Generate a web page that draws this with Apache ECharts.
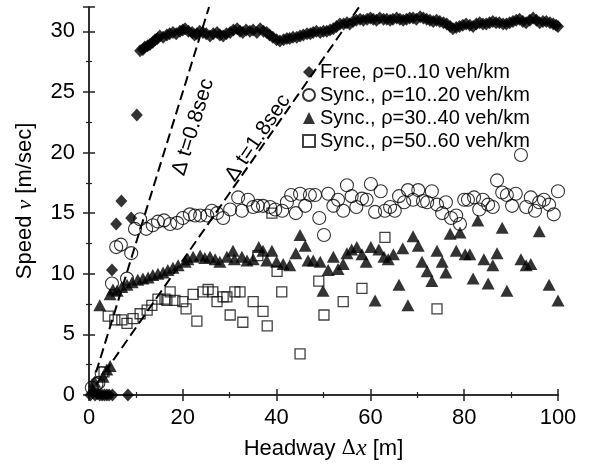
<!DOCTYPE html>
<html>
<head>
<meta charset="utf-8">
<script src="https://cdn.jsdelivr.net/npm/echarts@6/dist/echarts.min.js"></script>
<style>html,body{margin:0;padding:0;background:#fff}#c{width:592px;height:466px}</style>
</head>
<body>
<div id="c"></div>
<script>
// ---- data (headway [m], speed [m/s]) ----
const seriesNames = ['Free, ρ=0..10 veh/km', 'Sync., ρ=10..20 veh/km', 'Sync., ρ=30..40 veh/km', 'Sync., ρ=50..60 veh/km'];
const xTicks = [0, 20, 40, 60, 80, 100];
const yTicks = [0, 5, 10, 15, 20, 25, 30];

const freeData = [
  [0.3,0],[0.8,0.2],[1.3,0],[1.8,0.1],[2.3,0],[2.8,0],[3.3,0],[3.8,0],[4.3,0],[5.0,0],[8.3,0],
  [4.9,10.3],[5.8,14.1],[6.9,16.0],[9.0,14.6],[10.2,23.1],
  [10.9,28.4],[11.5,28.5],[11.9,28.7],[12.5,28.8],[13.0,28.9],[13.6,29.1],[14.1,29.3],[14.6,29.4],[15.1,29.6],[15.8,29.5],
  [16.6,29.7],[17.2,29.8],[17.9,29.9],[18.6,29.8],[19.4,30.0],[20.0,30.1],[20.5,30.2],[21.2,30.0],[22.0,29.9],[22.5,29.7],
  [23.0,29.8],[23.6,30.0],[24.3,29.9],[25.0,29.8],[25.8,29.6],[26.5,29.8],[27.3,29.9],[27.9,29.7],[28.6,29.6],[29.3,29.8],
  [30.1,29.9],[30.8,30.1],[31.6,30.2],[32.2,30.0],[32.8,29.9],[33.5,30.1],[34.3,30.0],[35.0,30.1],[35.8,29.9],[36.5,30.2],
  [37.2,30.0],[37.9,29.9],[38.5,29.7],[39.2,29.5],[40.0,29.3],[40.7,29.2],[41.5,29.3],[42.2,29.4],[42.8,29.4],[43.5,29.5],
  [44.3,29.5],[45.0,29.6],[45.7,29.7],[46.5,29.8],[47.2,29.8],[47.8,29.9],[48.5,30.0],[49.3,29.9],[50.0,30.0],[50.7,30.0],
  [51.4,30.1],[52.1,30.2],[52.8,30.4],[53.5,30.6],[54.3,30.6],[55.0,30.7],[55.6,30.6],[56.3,30.8],[57.0,30.9],[57.8,31.0],
  [58.5,30.9],[59.3,31.0],[60.0,31.1],[60.6,31.0],[61.3,30.9],[62.0,31.1],[62.8,31.0],[63.5,31.0],[64.2,30.9],[64.8,31.0],
  [65.6,31.1],[66.3,31.0],[67.0,30.9],[67.7,31.0],[68.4,31.1],[69.1,31.1],[69.8,31.0],[70.6,31.2],[71.3,31.1],[72.0,31.0],
  [72.7,30.9],[73.4,30.8],[74.1,30.9],[74.8,30.8],[75.6,30.7],[76.3,30.6],[77.0,30.4],[77.6,30.2],[78.3,30.3],[79.0,30.4],
  [79.7,30.5],[80.4,30.6],[81.2,30.5],[81.9,30.4],[82.6,30.6],[83.3,30.7],[84.0,30.6],[84.7,30.6],[85.4,30.7],[86.1,30.8],
  [86.8,30.7],[87.5,30.7],[88.3,30.6],[89.0,30.6],[89.7,30.7],[90.4,30.8],[91.1,30.9],[91.8,31.0],[92.5,30.8],[93.2,30.7],
  [94.0,30.9],[94.7,31.1],[95.4,30.9],[96.1,30.7],[96.8,30.8],[97.5,30.8],[98.3,30.7],[99.0,30.6],[99.6,30.5],[100.0,30.4]
];

const sync1020 = [
  [0.6,0.6],[1.6,0.9],[2.0,1.0],[2.7,1.8],[4.9,9.2],[5.8,12.2],[6.8,12.4],[8.1,9.6],[9.0,11.7],[9.8,13.7],[10.9,14.5],
  [12.2,13.7],[13.6,14.0],[14.7,14.3],[16.0,14.4],[17.3,14.1],[18.8,14.2],[20.0,14.6],[21.5,14.9],[22.6,14.8],[23.7,14.8],
  [25.2,14.8],[26.2,15.2],[27.3,15.0],[28.6,14.6],[30.1,15.3],[31.8,16.3],[32.6,15.2],[33.9,16.1],[35.0,15.5],[36.0,15.6],
  [37.1,15.6],[38.6,15.5],[39.7,15.3],[41.2,15.2],[42.2,15.9],[43.1,16.5],[44.1,15.0],[45.0,16.6],[46.1,15.6],[47.1,16.5],
  [48.2,16.5],[49.1,14.6],[50.1,13.2],[51.0,16.6],[52.1,15.6],[53.1,16.1],[54.2,15.2],[55.0,17.3],[56.0,16.4],[57.0,15.5],
  [58.2,16.2],[59.2,16.1],[60.1,17.4],[61.0,15.1],[62.2,16.8],[63.1,15.2],[64.2,15.5],[65.2,15.2],[66.1,16.4],[67.2,15.9],
  [68.0,16.9],[69.1,16.1],[70.2,16.9],[71.2,16.0],[72.1,15.9],[73.1,16.8],[74.2,15.7],[75.3,15.0],[76.1,15.9],[77.2,14.6],
  [78.3,14.8],[79.1,14.1],[80.0,16.1],[80.8,16.1],[82.1,16.3],[83.2,15.3],[84.0,16.1],[85.1,15.7],[86.1,15.5],[87.0,17.7],
  [88.1,16.7],[89.1,16.5],[90.2,15.6],[91.0,16.6],[92.1,19.8],[93.2,15.5],[94.2,16.3],[95.1,15.2],[96.0,15.9],[97.0,16.1],
  [98.1,15.7],[99.1,14.9],[100.0,16.8]
];

const sync3040 = [
  [0.8,0.5],[1.2,1.1],[3.0,1.5],[3.8,2.1],[4.5,2.4],[2.3,7.4],
  [4.5,8.3],[5.1,8.7],[6.0,8.6],[7.0,8.9],[8.1,9.1],[9.2,9.3],[10.4,9.5],[11.5,9.6],[12.6,9.7],[13.6,9.9],[14.7,10.0],
  [15.8,10.1],[16.8,10.3],[17.9,10.5],[19.0,10.7],[20.5,11.0],[21.1,11.2],[22.2,11.4],[23.7,11.5],[24.7,11.3],[25.8,11.4],
  [26.9,11.2],[27.9,11.0],[29.4,11.4],[30.7,11.9],[31.0,11.2],[32.6,11.4],[33.7,11.1],[35.0,11.2],[36.2,12.2],
  [37.1,11.9],[37.9,11.1],[39.0,11.9],[40.0,11.0],[41.4,10.8],[42.8,10.7],[44.1,11.7],[45.0,13.2],[46.1,12.3],[46.7,11.1],
  [47.8,11.1],[49.3,11.0],[49.9,8.6],[51.0,10.3],[52.1,11.4],[53.1,10.4],[54.2,10.8],[55.0,11.7],[56.0,12.0],[57.1,12.2],
  [58.2,11.6],[59.1,11.0],[60.1,12.2],[61.0,7.8],[61.8,12.0],[62.9,11.4],[63.8,11.2],[64.9,11.6],[66.1,9.1],[66.9,12.1],
  [68.0,7.4],[69.1,13.1],[70.2,12.3],[71.0,11.0],[72.1,10.2],[73.1,9.4],[74.2,11.9],[75.3,11.0],[76.1,10.1],[77.0,13.3],
  [78.3,11.9],[79.1,13.4],[80.2,11.6],[81.2,11.6],[81.9,9.6],[82.9,14.4],[84.2,11.2],[85.1,9.2],[86.1,10.7],[87.0,11.7],
  [88.1,13.8],[89.1,8.6],[92.1,11.2],[93.2,10.7],[94.2,10.8],[96.0,13.5],[98.1,9.1],[100.0,7.8]
];

const sync5060 = [
  [3.2,1.9],[4.1,6.5],[5.5,6.2],[7.0,6.2],[8.1,5.9],[9.4,6.3],[10.9,6.7],[12.4,7.0],[13.4,7.4],[14.7,7.9],[16.2,7.9],
  [16.6,7.8],[17.3,8.5],[18.3,7.8],[20.0,7.7],[20.7,7.1],[22.2,8.3],[23.0,6.1],[24.3,8.5],[25.4,8.7],[26.4,8.5],[27.3,7.7],
  [28.6,8.1],[29.4,8.1],[30.1,6.6],[31.1,8.5],[32.2,8.5],[32.8,6.0],[35.0,7.7],[36.0,11.5],[37.1,6.9],[38.0,5.7],[39.0,15.0],
  [40.1,10.2],[41.1,8.5],[45.0,3.4],[49.0,9.4],[50.1,6.6],[54.2,7.7],[58.2,8.8],[63.1,13.0],[74.2,7.1]
];

// reference lines  v = Δx / Δt
const line08 = [[1.5, 1.875], [25.6, 32]];
const line18 = [[1.5, 0.833], [57.6, 32]];
const label08 = [[22.2, 22.1]];
const label18 = [[36.0, 21.2]];

const FONT = 'Liberation Sans, Arial, Helvetica, sans-serif';
const chart = echarts.init(document.getElementById('c'), null, {renderer: 'canvas'});

const axisLineStyle = {color: '#222', width: 1.5};
const commonX = {
  type: 'value', min: 0, max: 100, interval: 20,
  axisTick: {inside: true, length: 6, lineStyle: axisLineStyle},
  minorTick: {show: true, splitNumber: 2, length: 3, lineStyle: {color: '#222', width: 1.2}},
  splitLine: {show: false}, minorSplitLine: {show: false},
  axisLine: {show: true, lineStyle: axisLineStyle}
};
const commonY = {
  type: 'value', min: 0, max: 32, interval: 5,
  axisTick: {inside: true, length: 6, lineStyle: axisLineStyle},
  minorTick: {show: true, splitNumber: 2, length: 3, lineStyle: {color: '#222', width: 1.2}},
  splitLine: {show: false}, minorSplitLine: {show: false},
  axisLine: {show: true, lineStyle: axisLineStyle}
};

chart.setOption({
  animation: false,
  backgroundColor: '#fff',
  grid: {left: 89, right: 34, top: 7, bottom: 67},
  legend: {
    data: seriesNames,
    orient: 'vertical', left: 297, top: 57,
    itemWidth: 12, itemHeight: 12, itemGap: 3,
    textStyle: {fontFamily: FONT, fontSize: 20, color: '#000'}
  },
  xAxis: [
    Object.assign({}, commonX, {
      position: 'bottom',
      axisLabel: {fontFamily: FONT, fontSize: 22, color: '#000', margin: 12,
        formatter: v => xTicks.includes(v) ? String(v) : ''},
      name: 'Headway {u|Δ}{i|x} [m]', nameLocation: 'middle', nameGap: 42,
      nameTextStyle: {fontFamily: FONT, fontSize: 22, color: '#000',
        rich: {u: {fontFamily: 'DejaVu Serif', fontSize: 20, color: '#000'},
               i: {fontFamily: 'Liberation Serif', fontStyle: 'italic', fontSize: 24, color: '#000'}}}
    }),
    Object.assign({}, commonX, {position: 'top', axisLabel: {show: false}})
  ],
  yAxis: [
    Object.assign({}, commonY, {
      position: 'left',
      axisLabel: {fontFamily: FONT, fontSize: 22, color: '#000', margin: 14, showMaxLabel: false,
        formatter: v => yTicks.includes(v) ? String(v) : ''},
      name: 'Speed {i|v} [m/sec]', nameLocation: 'middle', nameGap: 53,
      nameTextStyle: {fontFamily: FONT, fontSize: 22, color: '#000',
        rich: {i: {fontFamily: 'Liberation Serif', fontStyle: 'italic', fontSize: 22, color: '#000'}}}
    }),
    Object.assign({}, commonY, {position: 'right', axisLabel: {show: false}})
  ],
  series: [
    {name: seriesNames[3], type: 'scatter', data: sync5060, symbol: 'rect', symbolSize: 10, clip: false,
     itemStyle: {color: 'rgba(255,255,255,0)', borderColor: '#111', borderWidth: 1.3}},
    {name: seriesNames[2], type: 'scatter', data: sync3040, symbol: 'triangle', symbolSize: [13, 12], clip: false,
     itemStyle: {color: '#000'}},
    {name: seriesNames[1], type: 'scatter', data: sync1020, symbol: 'circle', symbolSize: 13, clip: false,
     itemStyle: {color: 'rgba(255,255,255,0)', borderColor: '#000', borderWidth: 1.1}},
    {name: seriesNames[0], type: 'scatter', data: freeData, symbol: 'diamond', symbolSize: [12, 13], clip: false,
     itemStyle: {color: '#000'}},
    {type: 'line', data: line08, symbol: 'none', silent: true, z: 5,
     lineStyle: {color: '#000', width: 2, type: [10, 5]}},
    {type: 'line', data: line18, symbol: 'none', silent: true, z: 5,
     lineStyle: {color: '#000', width: 2, type: [10, 5]}},
    {type: 'scatter', data: label08, symbolSize: 0, silent: true, z: 6,
     itemStyle: {opacity: 1},
     label: {show: true, position: 'inside', rotate: 73, formatter: 'Δ t=0.8sec', opacity: 1,
       fontFamily: FONT, fontSize: 21, color: '#000', textBorderWidth: 0}},
    {type: 'scatter', data: label18, symbolSize: 0, silent: true, z: 6,
     itemStyle: {opacity: 1},
     label: {show: true, position: 'inside', rotate: 56, formatter: 'Δ t=1.8sec', opacity: 1,
       fontFamily: FONT, fontSize: 21, color: '#000', textBorderWidth: 0}}
  ]
});
</script>
</body>
</html>
